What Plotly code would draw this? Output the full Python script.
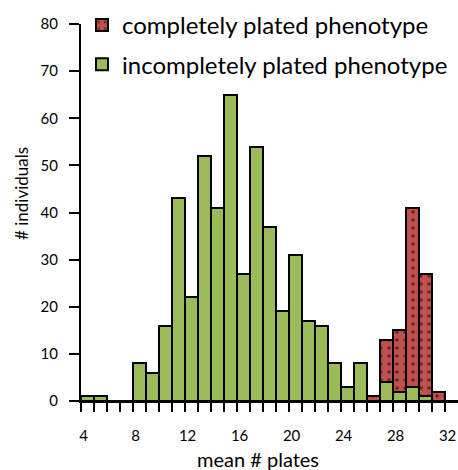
import plotly.graph_objects as go

# ---- data ----
plates = list(range(4, 33))  # mean # plates bins (4..32)
incomplete = [1, 1, 0, 0, 8, 6, 16, 43, 22, 52, 41, 65, 27, 54, 37, 19, 31, 17, 16, 8, 3, 8, 0, 4, 2, 3, 1, 0, 0]
complete = [0, 0, 0, 0, 0, 0, 0, 0, 0, 0, 0, 0, 0, 0, 0, 0, 0, 0, 0, 0, 0, 0, 1, 13, 15, 41, 27, 2, 0]
x_tick_labels = [4, 8, 12, 16, 20, 24, 28, 32]
y_ticks = [0, 10, 20, 30, 40, 50, 60, 70, 80]

FONT = "Lato"
GREEN = "#9BBB59"
RED = "#C0504D"

fig = go.Figure()
fig.add_trace(go.Bar(
    x=plates, y=complete, name="completely plated phenotype",
    width=1.0,
    marker=dict(color=RED, line=dict(color="black", width=2),
                pattern=dict(shape=".", fgcolor="black", bgcolor=RED, size=8, solidity=0.15)),
    legendgroup="a",
))
fig.add_trace(go.Bar(
    x=plates, y=incomplete, name="incompletely plated phenotype",
    width=1.0,
    marker=dict(color=GREEN, line=dict(color="black", width=2)),
    legendgroup="b",
))

fig.update_layout(
    width=458, height=470,
    margin=dict(l=81, r=0, t=24, b=69, autoexpand=False),
    barmode="overlay", bargap=0,
    plot_bgcolor="white", paper_bgcolor="white",
    font=dict(family=FONT, color="black", size=15),
    showlegend=True,
    legend=dict(
        x=(82 - 81) / (458 - 81), y=1 + 21 / (401 - 24), xanchor="left", yanchor="top",
        bgcolor="rgba(0,0,0,0)", borderwidth=0,
        font=dict(family=FONT, size=24, color="black"),
        traceorder="grouped", tracegroupgap=5,
        itemsizing="constant", itemwidth=30,
    ),
    xaxis=dict(
        range=[3.5, 32.5],
        showgrid=False, zeroline=False,
        showline=True, linecolor="black", linewidth=2,
        tickmode="array",
        tickvals=[v - 0.3 for v in x_tick_labels],
        ticktext=[str(v) for v in x_tick_labels],
        ticks="", ticklabelstandoff=20,
        tickfont=dict(family=FONT, size=15),
        minor=dict(ticks="outside", tickvals=[p - 0.5 for p in plates],
                   ticklen=9, tickwidth=2, tickcolor="black"),
    ),
    yaxis=dict(
        range=[0, 80],
        showgrid=False, zeroline=False,
        showline=True, linecolor="black", linewidth=2,
        tickmode="array", tickvals=y_ticks,
        ticks="outside", ticklen=10, tickwidth=2, tickcolor="black",
        ticklabelstandoff=8,
        tickfont=dict(family=FONT, size=15),
    ),
    annotations=[
        dict(text="mean # plates", xref="paper", yref="paper",
             x=(258 - 81) / (458 - 81), y=-(459 - 401) / (401 - 24),
             xanchor="center", yanchor="middle", showarrow=False,
             font=dict(family=FONT, size=20)),
        dict(text="# individuals", xref="paper", yref="paper",
             x=-(81 - 22) / (458 - 81), y=(401 - 194) / (401 - 24),
             xanchor="center", yanchor="middle", showarrow=False, textangle=-90,
             font=dict(family=FONT, size=17)),
    ],
)

fig.write_html("out.html")
